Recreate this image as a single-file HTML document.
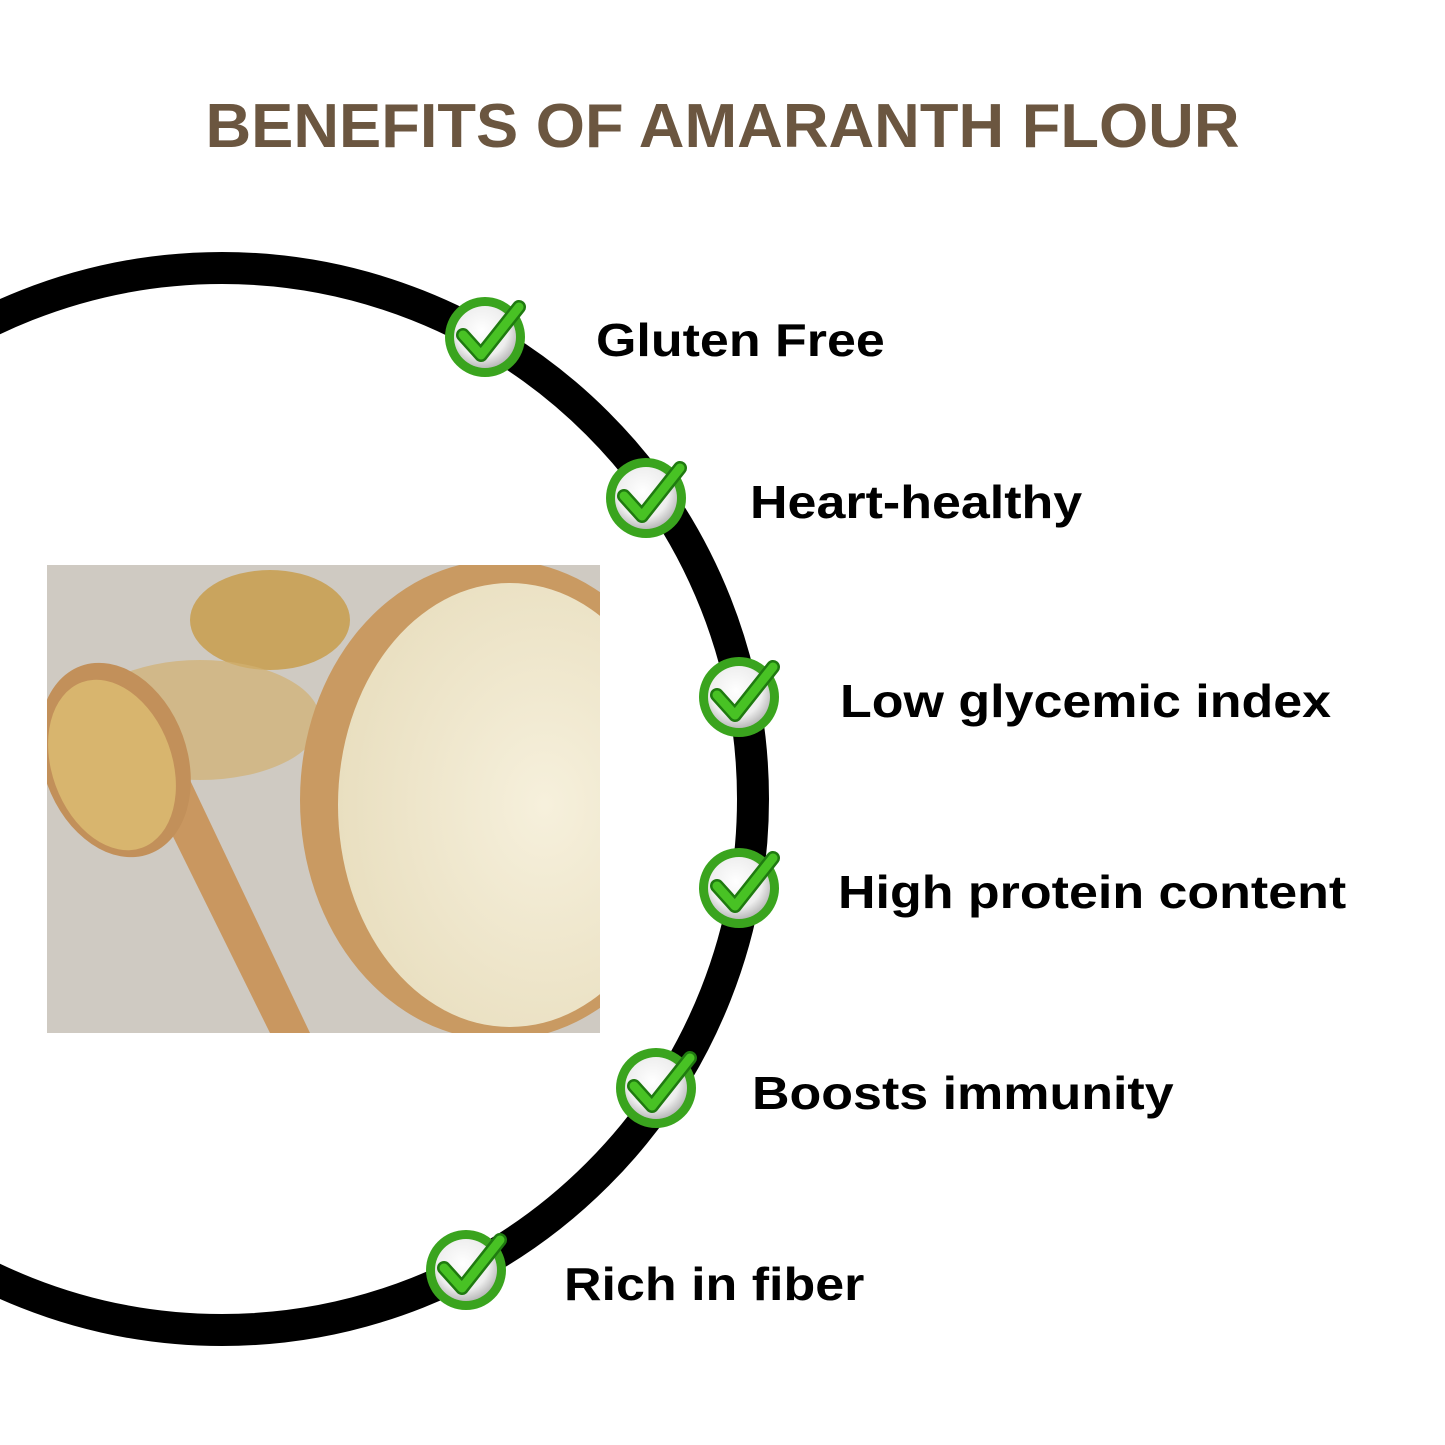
<!DOCTYPE html>
<html><head><style>
body{margin:0;width:1445px;height:1445px;background:#fff;position:relative;overflow:hidden;font-family:"Liberation Sans",sans-serif}
.t{position:absolute;font-weight:bold;font-size:46px;color:#000;line-height:1;white-space:nowrap;transform:scaleX(1.13);transform-origin:0 0}
h1{position:absolute;left:0;width:1445px;top:96px;margin:0;text-align:center;font-size:62px;font-weight:bold;color:#6b5640;letter-spacing:0px;line-height:1;transform:scaleX(1.02)}
</style></head><body>
<h1>BENEFITS OF AMARANTH FLOUR</h1>
<svg width="1445" height="1445" style="position:absolute;left:0;top:0">
<defs>
<radialGradient id="w" cx="0.45" cy="0.4" r="0.6"><stop offset="0" stop-color="#fff"/><stop offset="0.7" stop-color="#eee"/><stop offset="1" stop-color="#bbb"/></radialGradient>
<radialGradient id="fl" cx="0.6" cy="0.5" r="0.6"><stop offset="0" stop-color="#f6f0dc"/><stop offset="1" stop-color="#e9dfc0"/></radialGradient>
<clipPath id="ph"><rect x="47" y="565" width="553" height="468"/></clipPath>
<g id="c"><circle r="40" fill="#3aa41e"/><circle r="31" fill="url(#w)"/><path d="M-22,-2 L-4,18 L34,-30" fill="none" stroke="#1f7a10" stroke-width="14" stroke-linecap="round" stroke-linejoin="round"/><path d="M-22,-2 L-4,18 L34,-30" fill="none" stroke="#48c224" stroke-width="9" stroke-linecap="round" stroke-linejoin="round"/></g>
</defs>
<circle cx="222" cy="799" r="531" fill="none" stroke="#000" stroke-width="32"/>
<g clip-path="url(#ph)">
<rect x="47" y="565" width="553" height="468" fill="#cfcac2"/>
<ellipse cx="270" cy="620" rx="80" ry="50" fill="#c9a45e"/>
<ellipse cx="200" cy="720" rx="120" ry="60" fill="#d2b070" opacity="0.7"/>
<path d="M150,790 L270,1033 L310,1033 L190,780 Z" fill="#c99760"/>
<ellipse cx="115" cy="760" rx="72" ry="100" transform="rotate(-20 115 760)" fill="#c2905a"/>
<ellipse cx="112" cy="765" rx="60" ry="88" transform="rotate(-20 112 765)" fill="#d8b56e"/>
<ellipse cx="500" cy="800" rx="200" ry="240" fill="#c99a62"/>
<ellipse cx="510" cy="805" rx="172" ry="222" fill="url(#fl)"/>
</g>
<use href="#c" x="485" y="337"/>
<use href="#c" x="646" y="498"/>
<use href="#c" x="739" y="697"/>
<use href="#c" x="739" y="888"/>
<use href="#c" x="656" y="1088"/>
<use href="#c" x="466" y="1270"/>
</svg>
<div class="t" style="left:596px;top:317px">Gluten Free</div>
<div class="t" style="left:750px;top:479px">Heart-healthy</div>
<div class="t" style="left:840px;top:678px">Low glycemic index</div>
<div class="t" style="left:838px;top:869px">High protein content</div>
<div class="t" style="left:752px;top:1070px">Boosts immunity</div>
<div class="t" style="left:564px;top:1261px">Rich in fiber</div>
</body></html>
